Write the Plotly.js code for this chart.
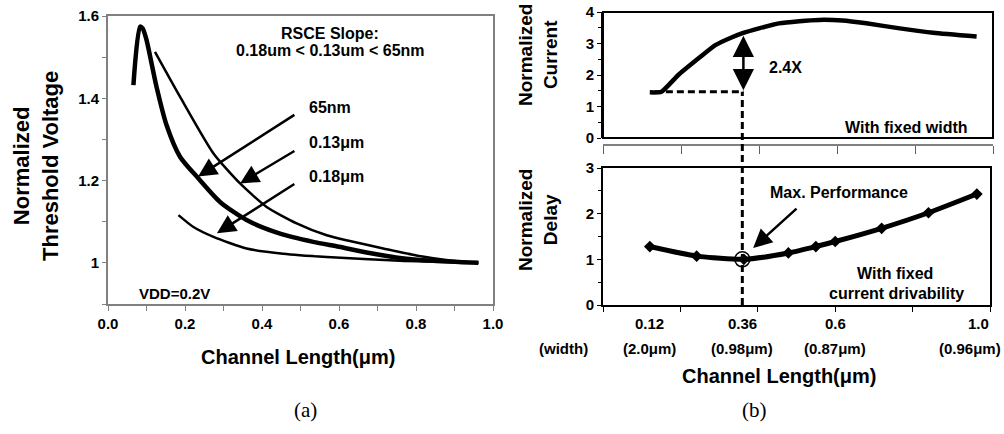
<!DOCTYPE html>
<html>
<head>
<meta charset="utf-8">
<script src="https://cdn.plot.ly/plotly-3.0.1.min.js"></script>
<style>
html,body{margin:0;padding:0;background:#fff;}
#chart{width:1004px;height:434px;}
</style>
</head>
<body>
<div id="chart"></div>
<script>
// ---------- DATA ----------
// (a) Normalized threshold voltage vs channel length
const vthX_65nm = [0.066,0.083,0.090,0.100,0.126,0.152,0.187,0.235,0.291,0.360,0.447,0.533,0.600,0.672,0.758,0.845,0.962];
const vthY_65nm = [1.432,1.574,1.570,1.542,1.428,1.335,1.258,1.205,1.148,1.104,1.071,1.051,1.039,1.025,1.012,1.005,1.000];
const vthX_013 = [0.122,0.187,0.274,0.343,0.412,0.490,0.568,0.628,0.715,0.801,0.888,0.962];
const vthY_013 = [1.513,1.404,1.266,1.193,1.136,1.096,1.067,1.053,1.035,1.018,1.006,1.000];
const vthX_018 = [0.183,0.222,0.274,0.360,0.455,0.568,0.758,0.962];
const vthY_018 = [1.116,1.087,1.063,1.035,1.022,1.014,1.005,1.000];

// (b) top: normalized current with fixed width
const curX = [0.12,0.15,0.193,0.245,0.288,0.331,0.356,0.40,0.451,0.503,0.554,0.614,0.675,0.761,0.847,0.958];
const curY = [1.45,1.47,2.00,2.53,2.95,3.20,3.32,3.48,3.64,3.71,3.75,3.73,3.64,3.48,3.34,3.22];

// (b) bottom: normalized delay with fixed current drivability
const delayX = [0.121,0.242,0.364,0.479,0.550,0.600,0.720,0.841,0.966];
const delayY = [1.28,1.07,1.00,1.14,1.28,1.39,1.68,2.02,2.43];

// optimum point and reference level
const optX = 0.36, optY = 1.0;
const refCurrent = 1.47, refStartX = 0.133, optCurrent = 3.25;

// (b) channel-length labels with corresponding widths
const lenTickPos = [0.12, 0.36, 0.6, 0.97];
const lenTickText = ['0.12', '0.36', '0.6', '1.0'];
const widthTickText = ['(2.0μm)', '(0.98μm)', '(0.87μm)', '(0.96μm)'];

// ---------- LAYOUT HELPERS ----------
const W = 1004, H = 434;
const X = px => px / W;
const Y = py => 1 - py / H;
const FONT = 'Arial, "Liberation Sans", sans-serif';
const bold = (s, size) => ({family: FONT, size: size, color: '#000', weight: 'bold'});

const domA_x = [X(108), X(493)], domA_y = [Y(304), Y(16)];
const domT_x = [X(603), X(993)], domT_y = [Y(138), Y(12)];
const domB_x = [X(603), X(990)], domB_y = [Y(305), Y(168)];

const traces = [
  {x: vthX_65nm, y: vthY_65nm, xaxis: 'x', yaxis: 'y', mode: 'lines',
   line: {color: '#000', width: 4.5, shape: 'spline', smoothing: 0.7}},
  {x: vthX_013, y: vthY_013, xaxis: 'x', yaxis: 'y', mode: 'lines',
   line: {color: '#000', width: 2.5, shape: 'spline', smoothing: 0.6}},
  {x: vthX_018, y: vthY_018, xaxis: 'x', yaxis: 'y', mode: 'lines',
   line: {color: '#000', width: 2.5, shape: 'spline', smoothing: 0.6}},
  {x: curX, y: curY, xaxis: 'x2', yaxis: 'y2', mode: 'lines',
   line: {color: '#000', width: 4.5, shape: 'spline', smoothing: 0.5}},
  {x: delayX, y: delayY, xaxis: 'x3', yaxis: 'y3', mode: 'lines+markers',
   line: {color: '#000', width: 5, shape: 'spline', smoothing: 0.6},
   marker: {symbol: 'diamond', size: 9, color: '#000'}},
  {x: [optX], y: [optY], xaxis: 'x3', yaxis: 'y3', mode: 'markers',
   marker: {symbol: 'circle-open', size: 15, color: '#000', line: {width: 1.5, color: '#000'}}}
];

const tickCommon = {ticks: 'outside', showgrid: false, zeroline: false, showline: true};

const yTopRef = domT_y[0] + (refCurrent / 4) * (domT_y[1] - domT_y[0]);

const annotations = [];
function txt(text, x, y, size, opts) {
  annotations.push(Object.assign({text: text, x: x, y: y, xref: 'paper', yref: 'paper',
    showarrow: false, font: bold(text, size), xanchor: 'center', yanchor: 'middle'}, opts || {}));
}
function arrow(xr, yr, x, y, ax, ay, opts) {
  annotations.push(Object.assign({text: '', x: x, y: y, ax: ax, ay: ay, xref: xr, yref: yr,
    axref: xr, ayref: yr, showarrow: true, arrowhead: 2, arrowsize: 1.5, arrowwidth: 2.5,
    arrowcolor: '#000'}, opts || {}));
}

// (a) texts
txt('Normalized<br>Threshold Voltage', X(36), Y(166), 22, {textangle: -90});
txt('Channel Length(μm)', X(298), Y(357), 20);
txt('RSCE Slope:', X(330), Y(33), 16);
txt('0.18um < 0.13um < 65nm', X(330), Y(51), 16);
txt('65nm', X(307), Y(107), 16, {xanchor: 'left'});
txt('0.13μm', X(307), Y(143), 16, {xanchor: 'left'});
txt('0.18μm', X(307), Y(177), 16, {xanchor: 'left'});
txt('VDD=0.2V', X(137), Y(293), 15, {xanchor: 'left'});
arrow('x', 'y', 0.234, 1.210, 0.488, 1.362);
arrow('x', 'y', 0.343, 1.193, 0.488, 1.274);
arrow('x', 'y', 0.283, 1.072, 0.488, 1.194);
annotations.push({text: '(a)', x: X(292), y: Y(410), xref: 'paper', yref: 'paper', showarrow: false,
  yanchor: 'middle', font: {family: '"Liberation Serif", "Times New Roman", serif', size: 21, color: '#000'}});

// (b) texts
txt('Normalized<br>Current', X(538), Y(55), 19, {textangle: -90});
txt('Normalized<br>Delay', X(538), Y(220), 19, {textangle: -90});
txt('2.4X', X(785), Y(67), 16);
txt('With fixed width', X(970), Y(127), 16, {xanchor: 'right'});
txt('Max. Performance', X(839), Y(192), 16);
txt('With fixed', X(895), Y(273), 16);
txt('current drivability', X(896), Y(293), 16);
arrow('x2', 'y2', optX, optCurrent, optX, refCurrent,
  {arrowside: 'end+start', startarrowhead: 2, arrowsize: 1.7, startarrowsize: 1.7});
arrow('x3', 'y3', 0.388, 1.25, 0.504, 2.14);
lenTickPos.forEach((p, i) => {
  const last = i === lenTickPos.length - 1;
  annotations.push({text: lenTickText[i], x: p, y: Y(323), xref: 'x3', yref: 'paper', showarrow: false,
    font: bold('', 15), xanchor: 'center', yanchor: 'middle'});
  annotations.push({text: widthTickText[i], x: (last ? X(1003) : p), y: Y(348),
    xref: (last ? 'paper' : 'x3'), yref: 'paper', showarrow: false,
    font: bold('', 15), xanchor: (last ? 'right' : 'center'), yanchor: 'middle'});
});
txt('(width)', X(563), Y(348), 15);
txt('Channel Length(μm)', X(779), Y(376), 20);
annotations.push({text: '(b)', x: X(769), y: Y(410), xref: 'paper', yref: 'paper', showarrow: false,
  yanchor: 'middle', font: {family: '"Liberation Serif", "Times New Roman", serif', size: 21, color: '#000'}});

const layout = {
  width: W, height: H,
  margin: {l: 0, r: 0, t: 0, b: 0, pad: 0},
  paper_bgcolor: '#fff', plot_bgcolor: '#fff',
  showlegend: false,
  font: {family: FONT, color: '#000'},
  xaxis: Object.assign({}, tickCommon, {domain: domA_x, anchor: 'y', range: [0, 1], dtick: 0.2, tick0: 0,
    tickformat: '.1f', ticklen: 5, tickcolor: '#808080', linecolor: '#808080', linewidth: 2, mirror: true,
    minor: {dtick: 0.1, tick0: 0, ticks: 'outside', ticklen: 5, tickcolor: '#808080'},
    tickfont: bold('', 15)}),
  yaxis: Object.assign({}, tickCommon, {domain: domA_y, anchor: 'x', range: [0.9, 1.6], dtick: 0.2, tick0: 0,
    ticklen: 4, tickcolor: '#808080', linecolor: '#808080', linewidth: 2, mirror: true,
    minor: {dtick: 0.1, tick0: 0, ticks: 'outside', ticklen: 4, tickcolor: '#808080'},
    tickfont: bold('', 15)}),
  xaxis2: Object.assign({}, tickCommon, {domain: domT_x, anchor: 'free', position: Y(144), range: [0, 1],
    dtick: 0.2, tick0: 0, ticklen: 8, tickcolor: '#606060', linecolor: '#808080', linewidth: 1.5,
    showticklabels: false}),
  yaxis2: Object.assign({}, tickCommon, {domain: domT_y, anchor: 'x2', range: [0, 4], dtick: 1, tick0: 0,
    ticklen: 4, tickcolor: '#000', linecolor: '#000', linewidth: 2,
    minor: {dtick: 0.5, tick0: 0, ticks: 'outside', ticklen: 3, tickcolor: '#000'},
    tickfont: bold('', 15)}),
  xaxis3: Object.assign({}, tickCommon, {domain: domB_x, anchor: 'y3', range: [0, 1], dtick: 0.2, tick0: 0,
    ticklen: 5, tickcolor: '#000', linecolor: '#000', linewidth: 2, mirror: true, showticklabels: false}),
  yaxis3: Object.assign({}, tickCommon, {domain: domB_y, anchor: 'x3', range: [0, 3], dtick: 1, tick0: 0,
    ticklen: 4, tickcolor: '#000', linecolor: '#000', linewidth: 2, mirror: true,
    minor: {dtick: 0.5, tick0: 0, ticks: 'outside', ticklen: 3, tickcolor: '#000'},
    tickfont: bold('', 15)}),
  shapes: [
    {type: 'rect', xref: 'x2 domain', yref: 'y2 domain', x0: 0, x1: 1, y0: 0, y1: 1,
     line: {color: '#000', width: 2}, layer: 'above'},
    {type: 'line', xref: 'x2', yref: 'y2', x0: refStartX, x1: optX, y0: refCurrent, y1: refCurrent,
     line: {color: '#000', width: 3, dash: '7px,4px'}},
    {type: 'line', xref: 'x3', yref: 'paper', x0: optX, x1: optX, y0: domB_y[0], y1: yTopRef,
     line: {color: '#000', width: 3, dash: '7px,4px'}}
  ],
  annotations: annotations
};

Plotly.newPlot('chart', traces, layout, {staticPlot: true, displayModeBar: false});
</script>
</body>
</html>
